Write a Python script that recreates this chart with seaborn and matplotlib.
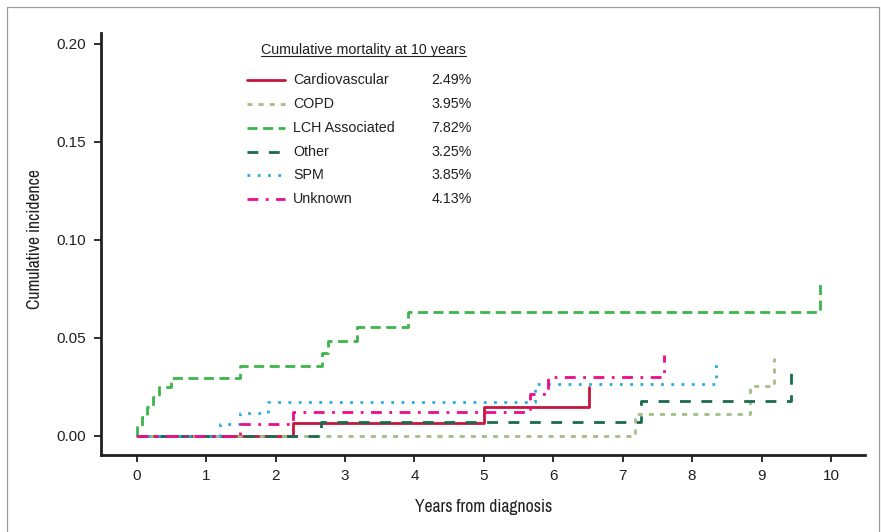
import matplotlib
matplotlib.use("Agg")
import matplotlib.pyplot as plt
from matplotlib.lines import Line2D
from matplotlib.patches import Rectangle
from matplotlib import font_manager
import seaborn as sns

# ---------------- data ----------------
causes = ["Cardiovascular", "COPD", "LCH Associated", "Other", "SPM", "Unknown"]
mortality_10y = ["2.49%", "3.95%", "7.82%", "3.25%", "3.85%", "4.13%"]

cardio_t = [0, 2.25, 5.00, 6.51]
cardio_v = [0, 0.0065, 0.0147, 0.0249]
copd_t = [0, 7.18, 8.84, 9.18]
copd_v = [0, 0.0110, 0.0255, 0.0395]
lch_t = [0, 0.0, 0.07, 0.15, 0.24, 0.32, 0.50, 1.49, 2.67, 2.75, 3.17, 3.91, 9.84]
lch_v = [0, 0.0049, 0.0094, 0.0145, 0.0196, 0.0247, 0.0296, 0.0356, 0.0420,
         0.0483, 0.0553, 0.0633, 0.0782]
other_t = [0, 2.65, 7.26, 9.42]
other_v = [0, 0.0068, 0.0179, 0.0325]
spm_t = [0, 1.20, 1.49, 1.89, 5.74, 8.34]
spm_v = [0, 0.0060, 0.0114, 0.0173, 0.0264, 0.0385]
unknown_t = [0, 1.49, 2.25, 5.66, 5.93, 7.59]
unknown_v = [0, 0.0060, 0.0122, 0.0213, 0.0301, 0.0413]

x_ticks = list(range(0, 11))
y_ticks = [0.00, 0.05, 0.10, 0.15, 0.20]
y_tick_labels = ["0.00", "0.05", "0.10", "0.15", "0.20"]

legend_title = "Cumulative mortality at 10 years"
x_label = "Years from diagnosis"
y_label = "Cumulative incidence"

# ---------------- styles ----------------
colors = ["#C8173A", "#A3BD86", "#3DB54A", "#1A6A50", "#29ABE2", "#EC0C8C"]
styles = ["-", (0, (1.8, 2.2)), (0, (3.6, 2.0)), (0, (3.9, 3.8)),
          (0, (1.0, 2.7)), (0, (3.9, 2.7, 1.0, 2.7))]
series = [(cardio_t, cardio_v), (copd_t, copd_v), (lch_t, lch_v),
          (other_t, other_v), (spm_t, spm_v), (unknown_t, unknown_v)]

sns.set_theme(style="ticks")
plt.rcParams["font.family"] = ["Liberation Sans", "DejaVu Sans"]
TXT = "#231F20"

# pick an upright, regular-weight condensed face for the axis titles
narrow_fp = None
cands = []
for f in font_manager.fontManager.ttflist:
    nm = (f.name + " " + f.fname).lower()
    if f.style != "normal":
        continue
    if "oblique" in nm or "italic" in nm or "bold" in nm:
        continue
    if f.weight not in (400, "normal", "regular", "book"):
        continue
    if "narrow" in nm or "condensed" in nm or str(f.stretch) in (
            "condensed", "semi-condensed", "extra-condensed", "ultra-condensed"):
        cands.append(f)
cands.sort(key=lambda f: (0 if "narrow" in f.name.lower() else 1, f.fname))
if cands:
    narrow_fp = font_manager.FontProperties(fname=cands[0].fname)
else:
    narrow_fp = font_manager.FontProperties(family="Roboto")

W, H = 881, 532
fig = plt.figure(figsize=(W / 100, H / 100), dpi=100)
ax = fig.add_axes([101 / W, 1 - 455 / H, (865 - 101) / W, (455 - 33) / H])


def fx(px):
    return px / W


def fy(py):
    return 1 - py / H


for (t, v), c, ls in zip(series, colors, styles):
    sns.lineplot(x=t, y=v, ax=ax, color=c, linestyle=ls, linewidth=2,
                 drawstyle="steps-post", estimator=None, sort=False)

ax.set_xlim(-0.514, 10.49)
ax.set_ylim(-0.00985, 0.2055)
ax.set_xticks(x_ticks)
ax.set_xticklabels([str(x) for x in x_ticks])
ax.set_yticks(y_ticks)
ax.set_yticklabels(y_tick_labels)
for s in ["top", "right"]:
    ax.spines[s].set_visible(False)
for s in ["left", "bottom"]:
    ax.spines[s].set_linewidth(2)
    ax.spines[s].set_color(TXT)
ax.tick_params(axis="both", direction="out", length=5.3, width=1.3,
               color=TXT, labelcolor=TXT, labelsize=11)
ax.tick_params(axis="y", pad=5.5)
ax.tick_params(axis="x", pad=5)
ax.set_facecolor("white")

# axis titles: fit the condensed face to the reference text widths
xl = fig.text(fx(483.5), fy(507), x_label, ha="center", va="center",
              fontproperties=narrow_fp, color=TXT)
yl = fig.text(fx(35), fy(239), y_label, ha="center", va="center",
              rotation=90, fontproperties=narrow_fp, color=TXT)
xl.set_fontsize(14)
yl.set_fontsize(14)
fig.canvas.draw()
wx = xl.get_window_extent().width
size = 14 * 137.0 / wx
size = max(10.5, min(size, 16.5))
xl.set_fontsize(size)
yl.set_fontsize(size)

# ---------------- legend (manual, two columns) ----------------
title = fig.text(fx(260.7), fy(50), legend_title, ha="left", va="center",
                 fontsize=10.3, color=TXT)
row_y = [80, 104, 127.7, 151.7, 175.3, 199]
for name, pct, c, ls, yy in zip(causes, mortality_10y, colors, styles, row_y):
    fig.add_artist(Line2D([fx(247), fx(285)], [fy(yy), fy(yy)], color=c,
                          linestyle=ls, linewidth=2))
    fig.text(fx(293), fy(yy), name, ha="left", va="center", fontsize=10.3,
             color=TXT)
    fig.text(fx(431.7), fy(yy), pct, ha="left", va="center", fontsize=10.3,
             color=TXT)

fig.canvas.draw()
bb = title.get_window_extent()
fig.add_artist(Line2D([bb.x0 / W, bb.x1 / W], [fy(55.7), fy(55.7)],
                      color=TXT, linewidth=0.8))

# outer frame
fig.add_artist(Rectangle((7 / W, -0.05), (879 - 7) / W, 1 - 7 / H + 0.05,
                         transform=fig.transFigure, fill=False,
                         edgecolor="#9C9C9C", linewidth=0.9))

fig.savefig("out.png", dpi=100, facecolor="white")
